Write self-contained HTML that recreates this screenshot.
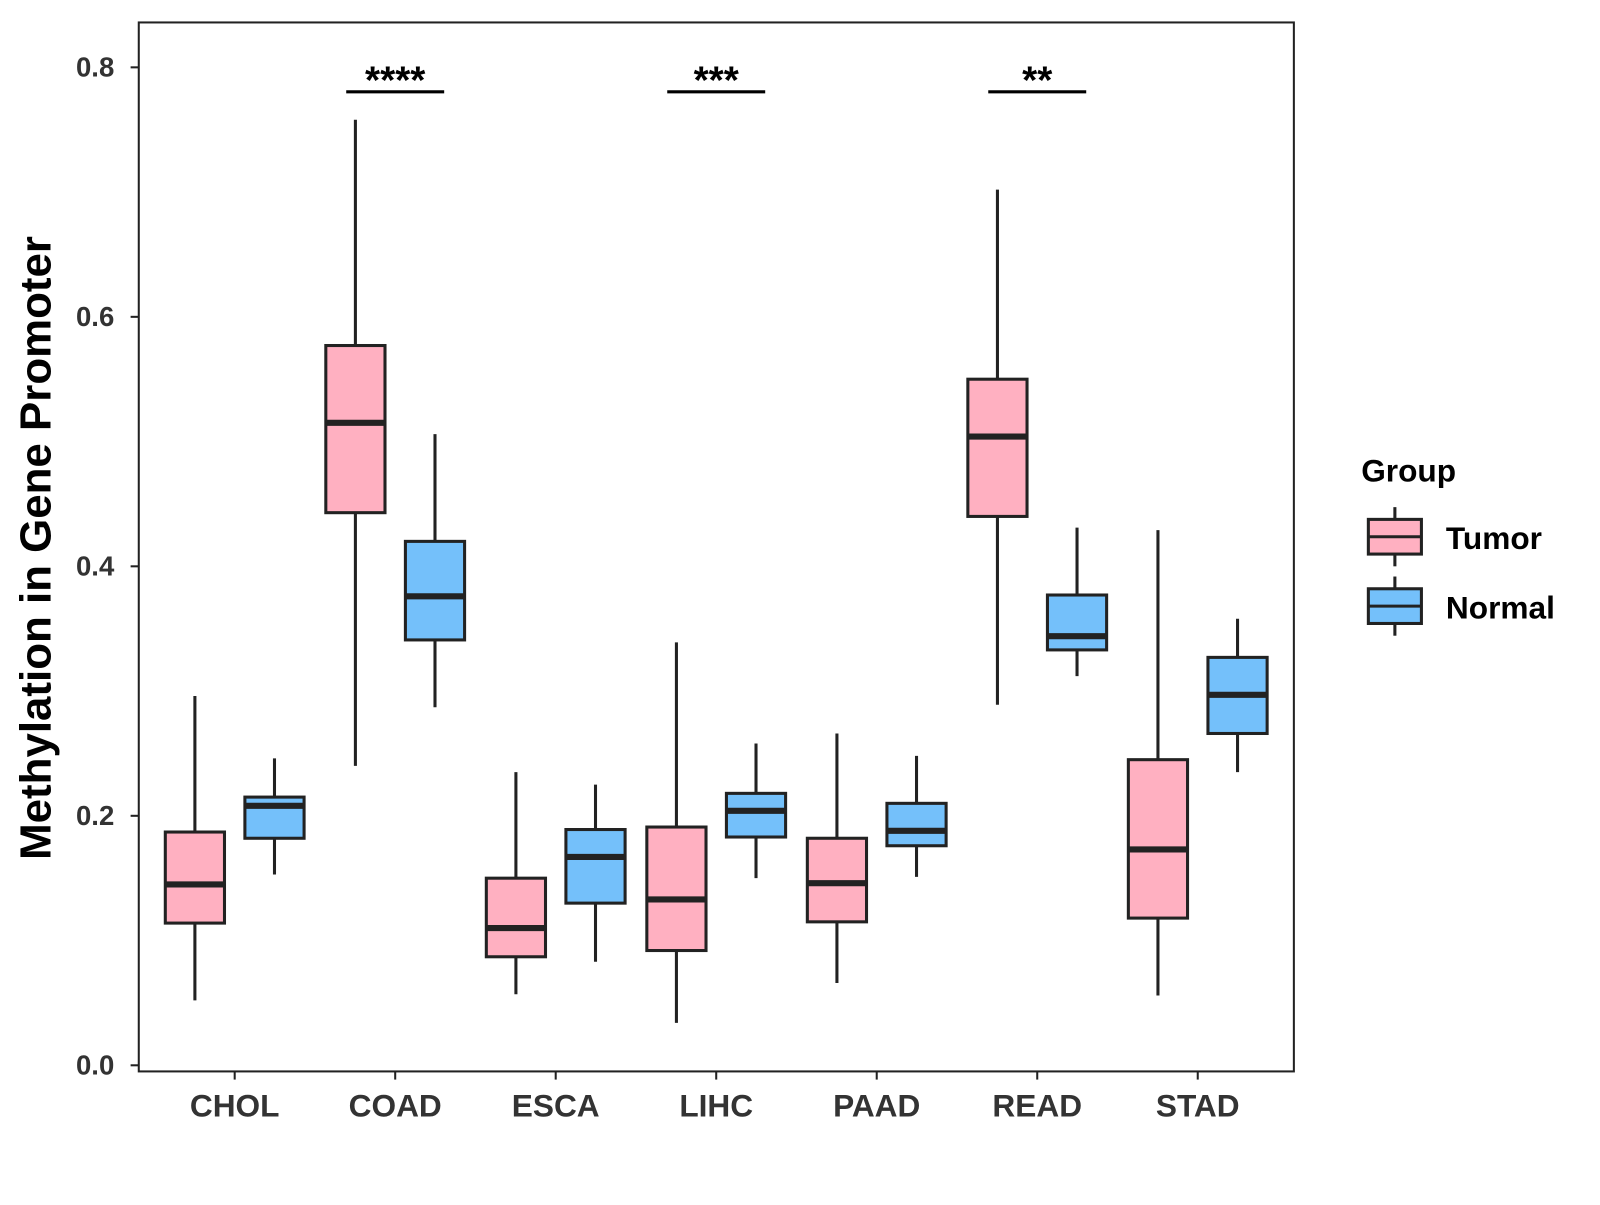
<!DOCTYPE html>
<html><head><meta charset="utf-8"><style>
body{margin:0;background:#fff;}
svg text{font-family:"Liberation Sans",Arial,sans-serif;font-weight:bold;}
</style></head><body>
<svg id="chart" width="1600" height="1200" viewBox="0 0 1600 1200">
<g transform="scale(1.0204)">
<rect x="136" y="22" width="1132" height="1028" fill="#fff" stroke="#222" stroke-width="2"/>
<g id="marks"></g>
<g id="axes"></g>
<text x="38" y="537" font-size="43" text-anchor="middle" transform="rotate(-90 38 537)" fill="#000" dominant-baseline="middle">Methylation in Gene Promoter</text>
<g>
<text x="1334" y="472" font-size="31" fill="#000">Group</text>
<g>
<line x1="1367" y1="497" x2="1367" y2="555" stroke="#222" stroke-width="3"/>
<rect x="1341" y="509" width="52" height="34" fill="#FFB0C1" stroke="#222" stroke-width="3"/>
<line x1="1341" y1="526" x2="1393" y2="526" stroke="#222" stroke-width="3"/>
<text x="1417" y="538" font-size="31" fill="#000">Tumor</text></g>
<g>
<line x1="1367" y1="565" x2="1367" y2="623" stroke="#222" stroke-width="3"/>
<rect x="1341" y="577" width="52" height="34" fill="#74C0FA" stroke="#222" stroke-width="3"/>
<line x1="1341" y1="594" x2="1393" y2="594" stroke="#222" stroke-width="3"/>
<text x="1417" y="606" font-size="31" fill="#000">Normal</text></g>
</g>
</g>
</svg>
<script>
const categories=["CHOL","COAD","ESCA","LIHC","PAAD","READ","STAD"];
// [whiskerLow, q1, median, q3, whiskerHigh]
const tumor=[[0.052,0.114,0.145,0.187,0.296],[0.240,0.443,0.515,0.577,0.758],[0.057,0.087,0.110,0.150,0.235],[0.034,0.092,0.133,0.191,0.339],[0.066,0.115,0.146,0.182,0.266],[0.289,0.440,0.504,0.550,0.702],[0.056,0.118,0.173,0.245,0.429]];
const normal=[[0.153,0.182,0.208,0.215,0.246],[0.287,0.341,0.376,0.420,0.506],[0.083,0.130,0.167,0.189,0.225],[0.150,0.183,0.204,0.218,0.258],[0.151,0.176,0.188,0.210,0.248],[0.312,0.333,0.344,0.377,0.431],[0.235,0.266,0.297,0.327,0.358]];
const yTicks=[0,0.2,0.4,0.6,0.8];
const yTickLabels=["0.0","0.2","0.4","0.6","0.8"];
const sigCats=["COAD","LIHC","READ"];
const sigLabels=["****","***","**"];
const sigLevel=0.780;

const NS="http://www.w3.org/2000/svg";
const y=v=>1044-v*1222.5;
const x=i=>230+i*157.3;
function mk(t,a,p){const e=document.createElementNS(NS,t);for(const k in a)e.setAttribute(k,a[k]);p.appendChild(e);return e;}
const marks=document.getElementById('marks'),axes=document.getElementById('axes');
function box(cx,d,fill,name){
  const g=mk('g',{},marks);
  
  
  mk('line',{x1:cx,x2:cx,y1:y(d[4]),y2:y(d[0]),stroke:'#222','stroke-width':3},g);
  mk('rect',{x:cx-29,y:y(d[3]),width:58,height:y(d[1])-y(d[3]),fill:fill,stroke:'#222','stroke-width':3},g);
  mk('line',{x1:cx-29,x2:cx+29,y1:y(d[2]),y2:y(d[2]),stroke:'#222','stroke-width':6},g);
}
categories.forEach((c,i)=>{
  box(x(i)-39,tumor[i],'#FFB0C1','box-'+c.toLowerCase()+'-tumor');
  box(x(i)+39,normal[i],'#74C0FA','box-'+c.toLowerCase()+'-normal');
  mk('line',{x1:x(i),x2:x(i),y1:1050,y2:1058,stroke:'#222','stroke-width':2},axes);
  const t=mk('text',{x:x(i),y:1094,'font-size':31,'text-anchor':'middle',fill:'#333'},axes);
  
  
  t.textContent=c;
});
yTicks.forEach((v,i)=>{
  mk('line',{x1:128,x2:136,y1:y(v),y2:y(v),stroke:'#222','stroke-width':2},axes);
  const t=mk('text',{x:112,y:y(v)+9,'font-size':27,'text-anchor':'end',fill:'#333'},axes);
  
  
  t.textContent=yTickLabels[i];
});
sigCats.forEach((c,k)=>{
  const i=categories.indexOf(c);
  const g=mk('g',{},marks);
  
  
  mk('line',{x1:x(i)-48,x2:x(i)+48,y1:y(sigLevel)-0.5,y2:y(sigLevel)-0.5,stroke:'#000','stroke-width':3},g);
  const t=mk('text',{x:x(i),y:y(sigLevel)+1,'font-size':38,'text-anchor':'middle',fill:'#000'},g);
  t.textContent=sigLabels[k];
});
</script>
</body></html>
